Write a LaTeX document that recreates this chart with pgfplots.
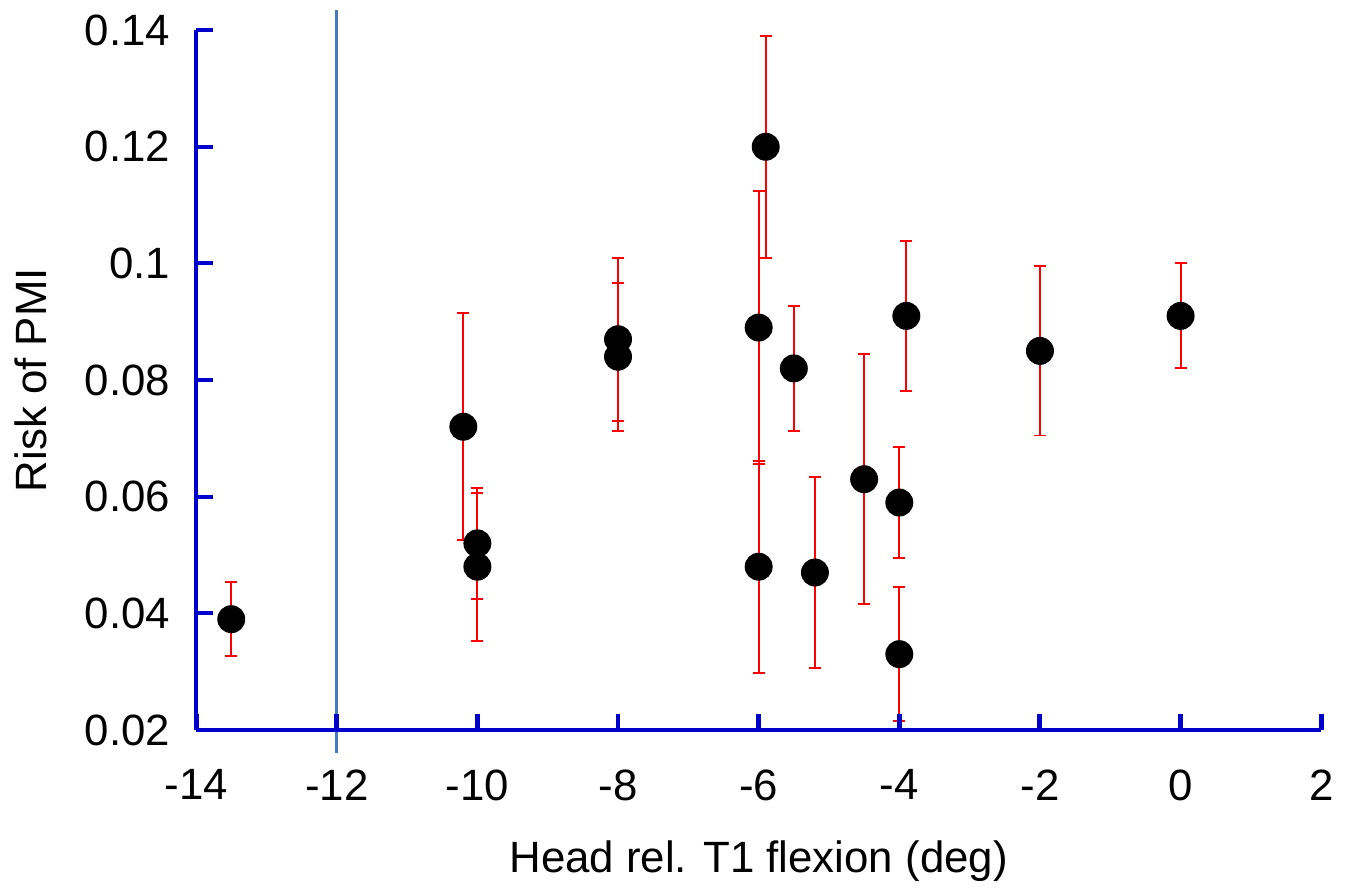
\documentclass[border=0pt]{standalone}
\usepackage{fontspec}
\setmainfont{Liberation Sans}
\usepackage{pgfplots}
\pgfplotsset{compat=1.18}
\definecolor{axisblue}{RGB}{0,0,205}
\definecolor{refline}{RGB}{70,120,190}
\begin{document}
\fontsize{16}{19}\selectfont
\begin{tikzpicture}
\begin{axis}[
  scale only axis,
  width=410.9pt, height=255.6pt,
  xmin=-14, xmax=2, ymin=0.02, ymax=0.14,
  axis lines*=left,
  axis line style={axisblue, line width=1.4pt, -},
  axis on top,
  clip=false,
  xtick={-14,-12,...,2},
  ytick={0.02,0.04,...,0.14},
  tick style={axisblue, line width=1.4pt},
  x tick style={line width=1.8pt},
  tick align=inside,
  major tick length=6pt,
  scaled y ticks=false,
  /pgf/number format/assume math mode=true,
  yticklabel style={/pgf/number format/fixed, /pgf/number format/precision=2, xshift=-4pt},
  xticklabel style={yshift=-9pt},
  ticklabel style={font=\fontsize{16}{19}\selectfont},
  label style={font=\fontsize{16}{19}\selectfont},
  xlabel={Head rel. T1 flexion (deg)},
  ylabel={Risk of PMI},
  xlabel style={yshift=-3.6pt},
  ylabel style={yshift=3pt},
]
% reference line
\addplot[refline, line width=1.1pt, forget plot] coordinates {(-12,0.0161) (-12,0.1435)};
% data with error bars
\addplot[only marks, mark=*, mark size=4.9pt, mark options={fill=black, draw=black},
  error bars/.cd, y dir=both, y explicit,
  error bar style={red, line width=0.7pt},
  error mark options={red, line width=0.7pt, rotate=90, mark size=2.2pt}]
coordinates {
  (-13.5,0.039) +- (0,0.0063)
  (-10.2,0.072) +- (0,0.0195)
  (-10.0,0.052) +- (0,0.0095)
  (-10.0,0.048) +- (0,0.0127)
  (-8.0,0.087) +- (0,0.0140)
  (-8.0,0.084) +- (0,0.0127)
  (-5.9,0.120) +- (0,0.0190)
  (-6.0,0.089) +- (0,0.0234)
  (-6.0,0.048) +- (0,0.0182)
  (-5.5,0.082) +- (0,0.0107)
  (-5.2,0.047) +- (0,0.0164)
  (-4.5,0.063) +- (0,0.0214)
  (-4.0,0.059) +- (0,0.0095)
  (-4.0,0.033) +- (0,0.0115)
  (-3.9,0.091) +- (0,0.0129)
  (-2.0,0.085) +- (0,0.0145)
  (0.0,0.091) +- (0,0.0090)
};
\end{axis}
\end{tikzpicture}
\end{document}
